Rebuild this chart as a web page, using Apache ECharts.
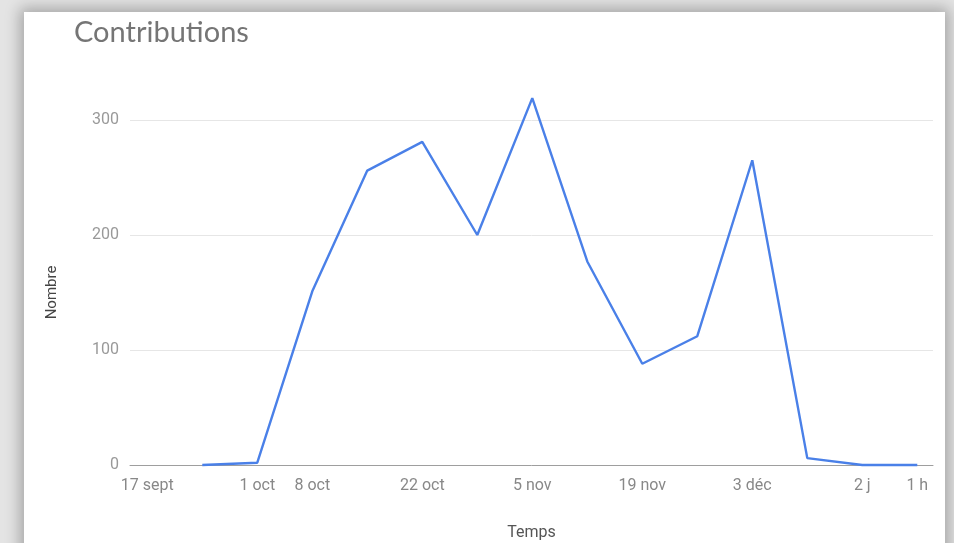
<!DOCTYPE html>
<html>
<head>
<meta charset="utf-8">
<script src="https://cdn.jsdelivr.net/npm/echarts@6/dist/echarts.min.js"></script>
<style>
html,body{margin:0;padding:0;width:954px;height:543px;overflow:hidden;background:#e4e4e4;}
#card{position:absolute;left:24px;top:12px;width:921px;height:560px;background:#fff;box-shadow:0 0 14px 4px rgba(0,0,0,0.28);}
#chart{position:absolute;left:0;top:0;width:954px;height:543px;}
</style>
</head>
<body>
<div id="card"></div>
<div id="chart"></div>
<script>
// Days since 17 sept
const pointDays = [7, 14, 21, 28, 35, 42, 49, 56, 63, 70, 77, 84, 91, 98];
const contributions = [0, 2, 151, 256, 281, 200, 319, 177, 88, 112, 265, 6, 0, 0];
const tickDays = [0, 14, 21, 35, 49, 63, 77, 91, 98];
const tickLabels = ['17 sept', '1 oct', '8 oct', '22 oct', '5 nov', '19 nov', '3 déc', '2 j', '1 h'];
const yTicks = [0, 100, 200, 300];

const chart = echarts.init(document.getElementById('chart'));
chart.setOption({
  backgroundColor: 'transparent',
  animation: false,
  title: {
    text: 'Contributions',
    left: 69,
    top: 13,
    textStyle: { fontFamily: 'Lato', fontSize: 29, fontWeight: 'normal', color: '#757575' }
  },
  grid: { left: 130, right: 21, top: 120, bottom: 78, containLabel: false, outerBoundsMode: 'none' },
  xAxis: {
    type: 'value',
    min: -2.2,
    max: 100,
    name: 'Temps',
    nameLocation: 'middle',
    nameGap: 60,
    nameTextStyle: { fontFamily: 'Roboto', fontSize: 16, color: '#555' },
    axisLine: { show: true, lineStyle: { color: '#9e9e9e', width: 1 } },
    axisTick: { show: false },
    splitLine: { show: false },
    axisLabel: {
      customValues: tickDays,
      formatter: function (v) {
        const i = tickDays.indexOf(v);
        return i >= 0 ? tickLabels[i] : '';
      },
      margin: 13,
      fontFamily: 'Roboto',
      fontSize: 16,
      color: '#888'
    }
  },
  yAxis: {
    type: 'value',
    min: 0,
    max: 300,
    interval: 100,
    name: 'Nombre',
    nameLocation: 'middle',
    nameGap: 70,
    nameRotate: 90,
    nameTextStyle: { fontFamily: 'Roboto', fontSize: 15, color: '#444' },
    axisLine: { show: false },
    axisTick: { show: false },
    splitLine: { lineStyle: { color: '#e6e6e6', width: 1 } },
    axisLabel: {
      customValues: yTicks,
      margin: 11,
      fontFamily: 'Roboto',
      fontSize: 16,
      color: '#999'
    }
  },
  series: [{
    type: 'line',
    data: pointDays.map((d, i) => [d, contributions[i]]),
    symbol: 'none',
    clip: false,
    lineStyle: { color: '#4a80e8', width: 2.4 },
    itemStyle: { color: '#4a80e8' }
  }]
});
</script>
</body>
</html>
